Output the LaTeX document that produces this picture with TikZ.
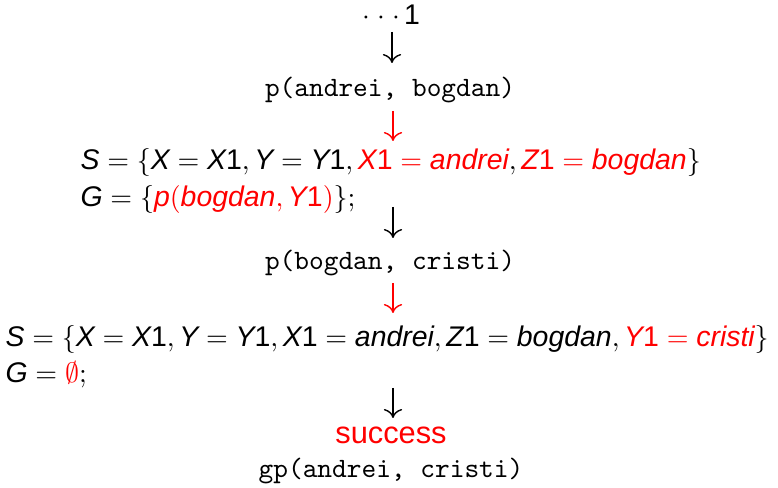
\documentclass[tikz,border=0pt]{standalone}
\usepackage{fontspec}
\setmainfont{Liberation Sans}
\usetikzlibrary{arrows.meta}
\newcommand\mv[1]{\textit{#1}}
\newcommand\dg[1]{\textup{#1}}
\begin{document}
\begin{tikzpicture}[x=0.3571pt,y=-0.3571pt,
  tt/.style={font=\fontsize{10}{12}\selectfont\ttfamily, inner sep=0pt, anchor=base},
  sf/.style={font=\fontsize{10.15}{12}\selectfont, inner sep=0pt, anchor=base west},
  arr/.style={line width=0.5pt, -{To[length=3.2pt,width=6.5pt]}},
  redarr/.style={arr, red}]
\useasboundingbox (0,0) rectangle (778,488);
\node[tt, font=\fontsize{10.15}{12}\selectfont] (top) at (391,25) {$\cdot$\hspace{2.6pt}$\cdot$\hspace{2.6pt}$\cdot$\hspace{1.5pt}\dg{1}};
\coordinate (a1s) at (392,32); \coordinate (a1e) at (392,63);
\draw[arr] (a1s) -- (a1e);
\node[tt] (p1) at (390,97) {p(andrei, bogdan)};
\coordinate (a2s) at (393,111); \coordinate (a2e) at (393,141);
\draw[redarr] (a2s) -- (a2e);
\node[sf] (s1) at (80,170) {$\mv{S}=\{\mv{X}=\mv{X}\dg{1},\mv{Y}=\mv{Y}\dg{1},\color{red}\mv{X}\dg{1}=\mv{andrei}\color{black},\color{red}\mv{Z}\dg{1}=\mv{bogdan}\color{black}\}$};
\node[sf] (g1) at (80,207) {$\mv{G}=\{\color{red}\mv{p}(\mv{bogdan},\mv{Y}\dg{1})\color{black}\};$};
\coordinate (a3s) at (393,207); \coordinate (a3e) at (393,238);
\draw[arr] (a3s) -- (a3e);
\node[tt] (p2) at (390,270) {p(bogdan, cristi)};
\coordinate (a4s) at (393,283); \coordinate (a4e) at (393,313);
\draw[redarr] (a4s) -- (a4e);
\node[sf] (s2) at (5,347) {$\mv{S}=\{\mv{X}=\mv{X}\dg{1},\mv{Y}=\mv{Y}\dg{1},\mv{X}\dg{1}=\mv{andrei},\mv{Z}\dg{1}=\mv{bogdan},\color{red}\mv{Y}\dg{1}=\mv{cristi}\color{black}\}$};
\node[sf] (g2) at (5,383) {$\mv{G}=\color{red}\emptyset\color{black};$};
\coordinate (a5s) at (393,388); \coordinate (a5e) at (393,418);
\draw[arr] (a5s) -- (a5e);
\node[tt, font=\fontsize{11}{13}\selectfont, red] (succ) at (391,444) {success};
\node[tt] (gp) at (391,478) {gp(andrei, cristi)};
\end{tikzpicture}
\end{document}
